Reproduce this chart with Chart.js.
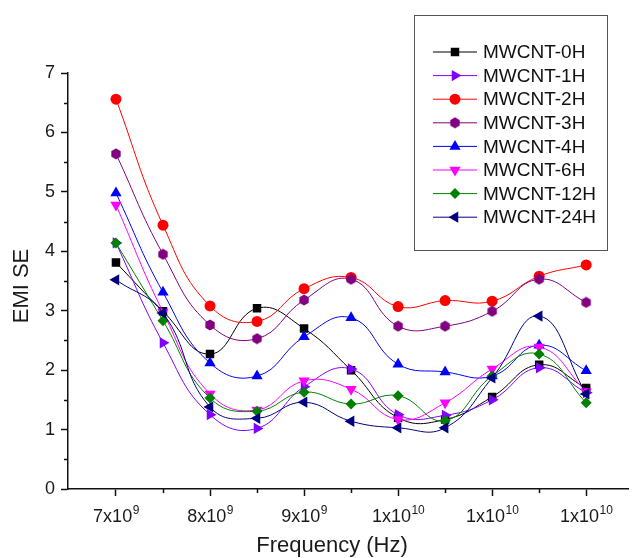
<!DOCTYPE html>
<html>
<head>
<meta charset="utf-8">
<script src="https://cdn.jsdelivr.net/npm/chart.js@4/dist/chart.umd.min.js"></script>
<style>
  body { margin: 0; background: #fff; }
  #wrap { width: 635px; height: 558px; }
</style>
</head>
<body>
<div id="wrap"><canvas id="emi_chart" width="635" height="558"></canvas></div>
<script>
// frequency points (Hz)
const freq = [7e9, 7.5e9, 8e9, 8.5e9, 9e9, 9.5e9, 1e10, 1.05e10, 1.1e10, 1.15e10, 1.2e10];

// EMI SE values per sample
const se0H  = [3.81, 2.99, 2.27, 3.04, 2.70, 2.00, 1.20, 1.17, 1.55, 2.09, 1.70];
const se1H  = [4.14, 2.46, 1.25, 1.02, 1.72, 2.02, 1.25, 1.24, 1.50, 2.04, 1.62];
const se2H  = [6.56, 4.44, 3.08, 2.82, 3.37, 3.56, 3.07, 3.17, 3.16, 3.58, 3.77];
const se3H  = [5.64, 3.95, 2.76, 2.53, 3.18, 3.53, 2.74, 2.74, 2.99, 3.53, 3.14];
const se4H  = [4.98, 3.31, 2.12, 1.90, 2.56, 2.88, 2.10, 1.97, 1.90, 2.42, 1.99];
const se6H  = [4.78, 2.98, 1.60, 1.33, 1.82, 1.68, 1.17, 1.45, 2.02, 2.39, 1.64];
const se12H = [4.14, 2.83, 1.53, 1.31, 1.63, 1.43, 1.57, 1.15, 1.90, 2.27, 1.45];
const se24H = [3.52, 2.96, 1.38, 1.19, 1.46, 1.14, 1.03, 1.03, 1.87, 2.91, 1.60];

const seriesNames = ['MWCNT-0H', 'MWCNT-1H', 'MWCNT-2H', 'MWCNT-3H', 'MWCNT-4H', 'MWCNT-6H', 'MWCNT-12H', 'MWCNT-24H'];

// axis ticks (label = mantissa x 10^exponent)
const xMajor = [7e9, 8e9, 9e9, 1e10, 1.1e10, 1.2e10];
const xTickBase = ['7x10', '8x10', '9x10', '1x10', '1x10', '1x10'];
const xTickExp = ['9', '9', '9', '10', '10', '10'];
const xMinor = [7.5e9, 8.5e9, 9.5e9, 1.05e10, 1.15e10];
const yMinor = [0.5, 1.5, 2.5, 3.5, 4.5, 5.5, 6.5];

// hexagon marker for 3H (not built in)
function hexagon(color) {
    const c = document.createElement('canvas');
    c.width = 12; c.height = 12;
    const g = c.getContext('2d');
    g.fillStyle = color;
    g.beginPath();
    for (let k = 0; k < 6; k++) {
        const a = Math.PI / 6 + k * Math.PI / 3;
        const px = 6 + 5.4 * Math.cos(a), py = 6 + 5.4 * Math.sin(a);
        k ? g.lineTo(px, py) : g.moveTo(px, py);
    }
    g.closePath();
    g.fill();
    return c;
}

const styles = [
    {color: '#000000', style: 'rect', rot: 0, r: 6},
    {color: '#8000ff', style: 'triangle', rot: 90, r: 6.5},
    {color: '#ff0000', style: 'circle', rot: 0, r: 5.5},
    {color: '#800080', style: hexagon('#800080'), rot: 0, r: 6},
    {color: '#0000ff', style: 'triangle', rot: 0, r: 6.5},
    {color: '#ff00ff', style: 'triangle', rot: 180, r: 6.5},
    {color: '#008000', style: 'rectRot', rot: 0, r: 5.5},
    {color: '#000080', style: 'triangle', rot: 270, r: 6.5}
];
const values = [se0H, se1H, se2H, se3H, se4H, se6H, se12H, se24H];

const datasets = values.map((vals, i) => ({
    label: seriesNames[i],
    data: freq.map((f, j) => ({x: f, y: vals[j]})),
    borderColor: styles[i].color,
    backgroundColor: styles[i].color,
    borderWidth: 1,
    tension: 0.45,
    pointStyle: styles[i].style,
    pointRotation: styles[i].rot,
    pointRadius: styles[i].r,
    pointBorderWidth: 0,
    order: 7 - i
}));

const FONT = '"Liberation Sans", Arial, sans-serif';

const extras = {
    id: 'extras',
    afterDraw(chart) {
        const {ctx, scales: {x, y}} = chart;
        ctx.save();
        ctx.strokeStyle = '#111';
        ctx.lineWidth = 1.5;
        ctx.beginPath();
        xMinor.forEach(v => {
            const px = Math.round(x.getPixelForValue(v)) + 0.5;
            ctx.moveTo(px, y.bottom);
            ctx.lineTo(px, y.bottom + 4);
        });
        yMinor.forEach(v => {
            const py = Math.round(y.getPixelForValue(v)) + 0.5;
            ctx.moveTo(x.left, py);
            ctx.lineTo(x.left - 4, py);
        });
        ctx.stroke();

        // x tick labels with superscript exponent
        ctx.fillStyle = '#1a1a1a';
        ctx.textBaseline = 'alphabetic';
        ctx.textAlign = 'left';
        xMajor.forEach((v, i) => {
            const px = x.getPixelForValue(v);
            ctx.font = '18px ' + FONT;
            const wb = ctx.measureText(xTickBase[i]).width;
            ctx.font = '12px ' + FONT;
            const we = ctx.measureText(xTickExp[i]).width;
            const x0 = px - (wb + we) / 2;
            ctx.font = '18px ' + FONT;
            ctx.fillText(xTickBase[i], x0, 522);
            ctx.font = '12px ' + FONT;
            ctx.fillText(xTickExp[i], x0 + wb + 0.5, 514);
        });

        // axis titles
        ctx.font = '22px ' + FONT;
        ctx.textAlign = 'center';
        ctx.textBaseline = 'middle';
        ctx.fillText('Frequency (Hz)', 332, 546);
        ctx.save();
        ctx.translate(22, 286);
        ctx.rotate(-Math.PI / 2);
        ctx.fillText('EMI SE', 0, 0);
        ctx.restore();

        // legend box
        ctx.lineWidth = 1;
        ctx.strokeStyle = '#555';
        ctx.strokeRect(414.5, 15.5, 193, 235);
        ctx.font = '19px ' + FONT;
        ctx.textAlign = 'left';
        chart.data.datasets.forEach((ds, i) => {
            const yy = 52 + i * 23.6;
            ctx.strokeStyle = ds.borderColor;
            ctx.lineWidth = 1;
            ctx.beginPath();
            ctx.moveTo(433, yy);
            ctx.lineTo(477, yy);
            ctx.stroke();
            ctx.fillStyle = ds.backgroundColor;
            Chart.helpers.drawPoint(ctx, {
                pointStyle: ds.pointStyle,
                rotation: ds.pointRotation,
                radius: ds.pointRadius,
                borderWidth: 0
            }, 455, yy);
            ctx.fillStyle = '#111';
            ctx.fillText(ds.label, 483, yy + 1);
        });
        ctx.restore();
    }
};

new Chart(document.getElementById('emi_chart').getContext('2d'), {
    type: 'line',
    data: {datasets: datasets},
    options: {
        responsive: false,
        animation: false,
        layout: {padding: {top: 73, right: 3, left: 0, bottom: 0}},
        plugins: {
            legend: {display: false},
            tooltip: {enabled: false}
        },
        scales: {
            x: {
                type: 'linear',
                min: 6.49e9,
                max: 12.45e9,
                afterBuildTicks: (scale) => { scale.ticks = xMajor.map(v => ({value: v})); },
                afterFit: (scale) => { scale.height = 69; },
                border: {color: '#111', width: 1.5},
                grid: {drawOnChartArea: false, tickLength: 7, tickColor: '#111', tickWidth: 1.5},
                ticks: {
                    maxRotation: 0,
                    autoSkip: false,
                    callback: () => ''
                }
            },
            y: {
                min: 0,
                max: 7,
                afterFit: (scale) => { scale.width = 68; },
                border: {color: '#111', width: 1.5},
                grid: {drawOnChartArea: false, tickLength: 7, tickColor: '#111', tickWidth: 1.5},
                ticks: {
                    stepSize: 1,
                    padding: 6,
                    color: '#1a1a1a',
                    font: {family: FONT, size: 18}
                }
            }
        }
    },
    plugins: [extras]
});
</script>
</body>
</html>
